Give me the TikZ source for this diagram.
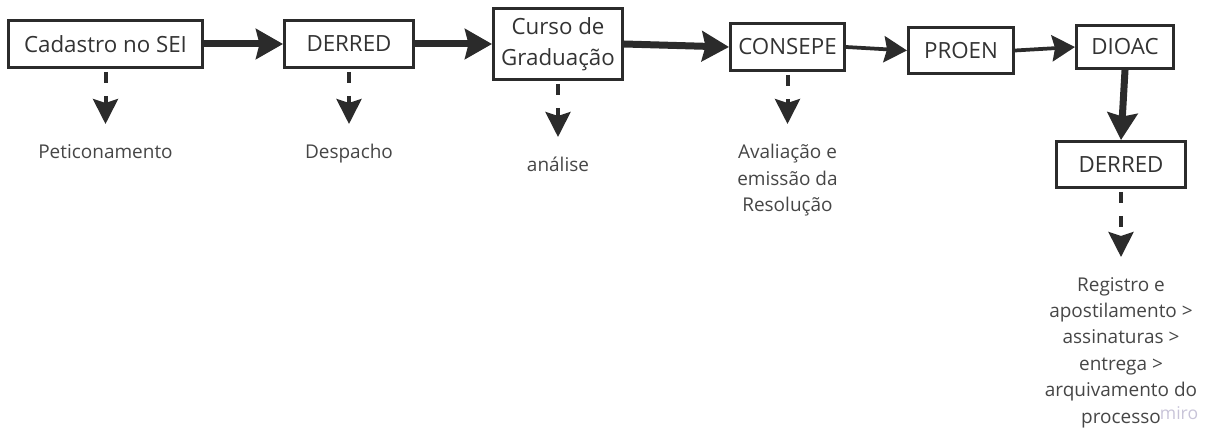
\documentclass[tikz,border=0pt]{standalone}
\usepackage{fontspec}
\setmainfont{Open Sans}
\usepackage{xcolor}
\usetikzlibrary{arrows.meta,positioning}
\definecolor{ink}{RGB}{43,43,43}
\definecolor{txt}{RGB}{51,51,51}
\definecolor{gry}{RGB}{70,70,70}
\definecolor{wm}{RGB}{200,196,216}

\begin{document}
\begin{tikzpicture}[x=0.02cm, y=-0.02cm,
  box/.style={draw=ink, line width=0.06cm, rectangle, inner sep=0pt, align=center, text=txt, font=\fontsize{12.7}{17.6}\selectfont},
  lbl/.style={anchor=north, inner sep=0pt, align=center, text=gry, font=\fontsize{10.8}{15}\selectfont},
  thickarr/.style={draw=ink, line width=0.14cm, -{Stealth[length=0.54cm, width=0.6cm, inset=0.07cm]}},
  thinarr/.style={draw=ink, line width=0.075cm, -{Stealth[length=0.46cm, width=0.52cm, inset=0.06cm]}},
  dasharr/.style={draw=ink, line width=0.08cm, dash pattern=on 0.22cm off 0.26cm, shorten <=0.06cm, shorten >=0.4cm, -{Stealth[length=0.5cm, width=0.5cm, inset=0.08cm]}}]
\useasboundingbox (0,0) rectangle (1209,435);

% main flow
\node[box, minimum width=3.88cm, minimum height=0.94cm] (cad) at (105.5,44) {Cadastro no SEI};
\node[box, minimum width=2.58cm, minimum height=0.94cm] (der1) at (349,44) {DERRED};
\node[box, minimum width=2.58cm, minimum height=1.42cm] (curso) at (558,44) {Curso de\\Graduação};
\node[box, minimum width=2.28cm, minimum height=0.94cm] (consepe) at (787.5,47) {CONSEPE};
\node[box, minimum width=2.1cm, minimum height=0.92cm] (proen) at (961,50.5) {PROEN};
\node[box, minimum width=1.94cm, minimum height=0.86cm] (dioac) at (1125,47) {DIOAC};
\node[box, minimum width=2.58cm, minimum height=0.92cm] (der2) at (1121,164.5) {DERRED};

% notes under the boxes
\node[lbl] (pet) at (105.5,144) {Peticonamento};
\node[lbl] (desp) at (349,144) {Despacho};
\node[lbl] (anal) at (558,157) {análise};
\node[lbl] (aval) at (787.5,144) {Avaliação e\\emissão da\\Resolução};
\node[lbl] (reg) at (1121,277) {Registro e\\apostilamento >\\assinaturas >\\entrega >\\arquivamento do\\processo};
\node[text=wm, inner sep=0pt, font=\fontsize{10}{10}\selectfont] (miro) at (1179,413) {miro};

\draw[thickarr] (cad.east) -- (der1.west);
\draw[thickarr] (der1.east) -- (curso.west);
\draw[thickarr] (curso.east) -- (consepe.west);
\draw[thinarr] (consepe.east) -- (proen.west);
\draw[thinarr] (proen.east) -- (dioac.west);
\draw[thickarr] (dioac.south) -- (der2.north);

\draw[dasharr] (cad.south) -- (pet.north);
\draw[dasharr] (der1.south) -- (desp.north);
\draw[dasharr] (curso.south) -- (anal.north);
\draw[dasharr] (consepe.south) -- (aval.north);
\draw[dasharr] (der2.south) -- (reg.north);
\end{tikzpicture}
\end{document}
